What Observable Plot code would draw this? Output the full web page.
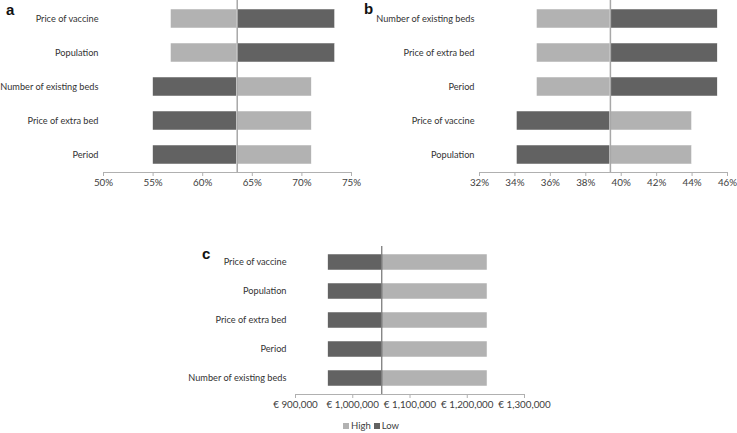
<!DOCTYPE html>
<html>
<head>
<meta charset="utf-8">
<script src="https://cdn.jsdelivr.net/npm/d3@7"></script>
<script src="https://cdn.jsdelivr.net/npm/@observablehq/plot@0.6"></script>
<style>
  html, body { margin: 0; padding: 0; background: #fff; }
  #wrap { position: relative; width: 737px; height: 433px; overflow: hidden; font-family: Lato, sans-serif; }
  .panel { position: absolute; }
  .lab { position: absolute; font: bold 15px "Liberation Sans", Arial, sans-serif; color: #111; }
  #legend { position: absolute; left: 343px; top: 420px; font-size: 9.5px; color: #404040; display: flex; align-items: center; }
  #legend span.sw { display: inline-block; width: 6px; height: 6px; margin-right: 2px; }
  #legend span.tx { margin-right: 3px; }
</style>
</head>
<body>
<div id="wrap">
  <div class="panel" id="pa" style="left:0;top:0"></div>
  <div class="panel" id="pb" style="left:365px;top:0"></div>
  <div class="panel" id="pc" style="left:180px;top:230px"></div>
  <div class="lab" style="left:6px;top:1px">a</div>
  <div class="lab" style="left:364px;top:0px">b</div>
  <div class="lab" style="left:202px;top:245px">c</div>
  <div id="legend"></div>
</div>
<script>
// ---- data ----
const seriesNames = ["High", "Low"];
const colorHigh = "#b2b2b2";
const colorLow = "#626262";

const catsA = ["Price of vaccine", "Population", "Number of existing beds", "Price of extra bed", "Period"];
const lowA  = [73.35, 73.35, 55.0, 55.0, 55.0];
const highA = [56.8, 56.8, 71.0, 71.0, 71.0];
const baseA = 63.48;
const ticksA = [50, 55, 60, 65, 70, 75];

const catsB = ["Number of existing beds", "Price of extra bed", "Period", "Price of vaccine", "Population"];
const lowB  = [45.45, 45.45, 45.45, 34.11, 34.11];
const highB = [35.24, 35.24, 35.24, 44.0, 44.0];
const baseB = 39.39;
const ticksB = [32, 34, 36, 38, 40, 42, 44, 46];

const catsC = ["Price of vaccine", "Population", "Price of extra bed", "Period", "Number of existing beds"];
const lowC  = [957100, 957100, 957100, 957100, 957100];
const highC = [1235400, 1235400, 1235400, 1235400, 1235400];
const baseC = 1050750;
const ticksC = [900000, 1000000, 1100000, 1200000, 1300000];

// ---- drawing ----
const FONT = "Lato, sans-serif";
function panel({cats, low, high, base, ticks, fmt, width, height, marginLeft, marginRight, marginTop, marginBottom, padInner, baseColor, baseWidth, labelPad}) {
  const rows = cats.map((c, i) => ({cat: c, low: low[i], high: high[i], base}));
  return Plot.plot({
    width, height, marginLeft, marginRight, marginTop, marginBottom,
    style: {fontFamily: FONT, fontSize: "9.5px", background: "#fff", color: "#404040", overflow: "visible"},
    x: {domain: [ticks[0], ticks[ticks.length - 1]]},
    y: {type: "band", domain: cats, paddingInner: padInner, paddingOuter: padInner / 2},
    marks: [
      Plot.barX(rows, {y: "cat", x1: "base", x2: "low", fill: colorLow, stroke: "#fff", strokeWidth: 0.5}),
      Plot.barX(rows, {y: "cat", x1: "base", x2: "high", fill: colorHigh, stroke: "#fff", strokeWidth: 0.5}),
      Plot.frame({anchor: "bottom", stroke: "#b0b0b0"}),
      Plot.axisX({ticks, tickFormat: fmt, tickSize: 4, tickPadding: 3, stroke: "#b0b0b0", fill: "#404040", label: null, fontSize: 9.8}),
      Plot.axisY({tickSize: 0, tickPadding: labelPad, fill: "#333", label: null, fontSize: 9.2}),
      Plot.ruleX([base], {stroke: baseColor, strokeWidth: baseWidth})
    ]
  });
}

const pct = d => d + "%";
const eur = d => "€ " + d3.format(",")(d);

document.getElementById("pa").appendChild(panel({
  cats: catsA, low: lowA, high: highA, base: baseA, ticks: ticksA, fmt: pct,
  width: 365, height: 195, marginLeft: 103, marginRight: 14, marginTop: 0, marginBottom: 23,
  padInner: 0.45, baseColor: "#a8a8a8", baseWidth: 1.5, labelPad: 5
}));
document.getElementById("pb").appendChild(panel({
  cats: catsB, low: lowB, high: highB, base: baseB, ticks: ticksB, fmt: pct,
  width: 372, height: 195, marginLeft: 114, marginRight: 10, marginTop: 0, marginBottom: 23,
  padInner: 0.45, baseColor: "#a8a8a8", baseWidth: 1.5, labelPad: 5
}));
document.getElementById("pc").appendChild(panel({
  cats: catsC, low: lowC, high: highC, base: baseC, ticks: ticksC, fmt: eur,
  width: 380, height: 190, marginLeft: 115, marginRight: 36, marginTop: 16, marginBottom: 26,
  padInner: 0.455, baseColor: "#555", baseWidth: 1, labelPad: 9
}));

// legend
const leg = document.getElementById("legend");
[[seriesNames[0], colorHigh], [seriesNames[1], colorLow]].forEach(([name, col]) => {
  const s = document.createElement("span"); s.className = "sw"; s.style.background = col; leg.appendChild(s);
  const t = document.createElement("span"); t.className = "tx"; t.textContent = name; leg.appendChild(t);
});
</script>
</body>
</html>
